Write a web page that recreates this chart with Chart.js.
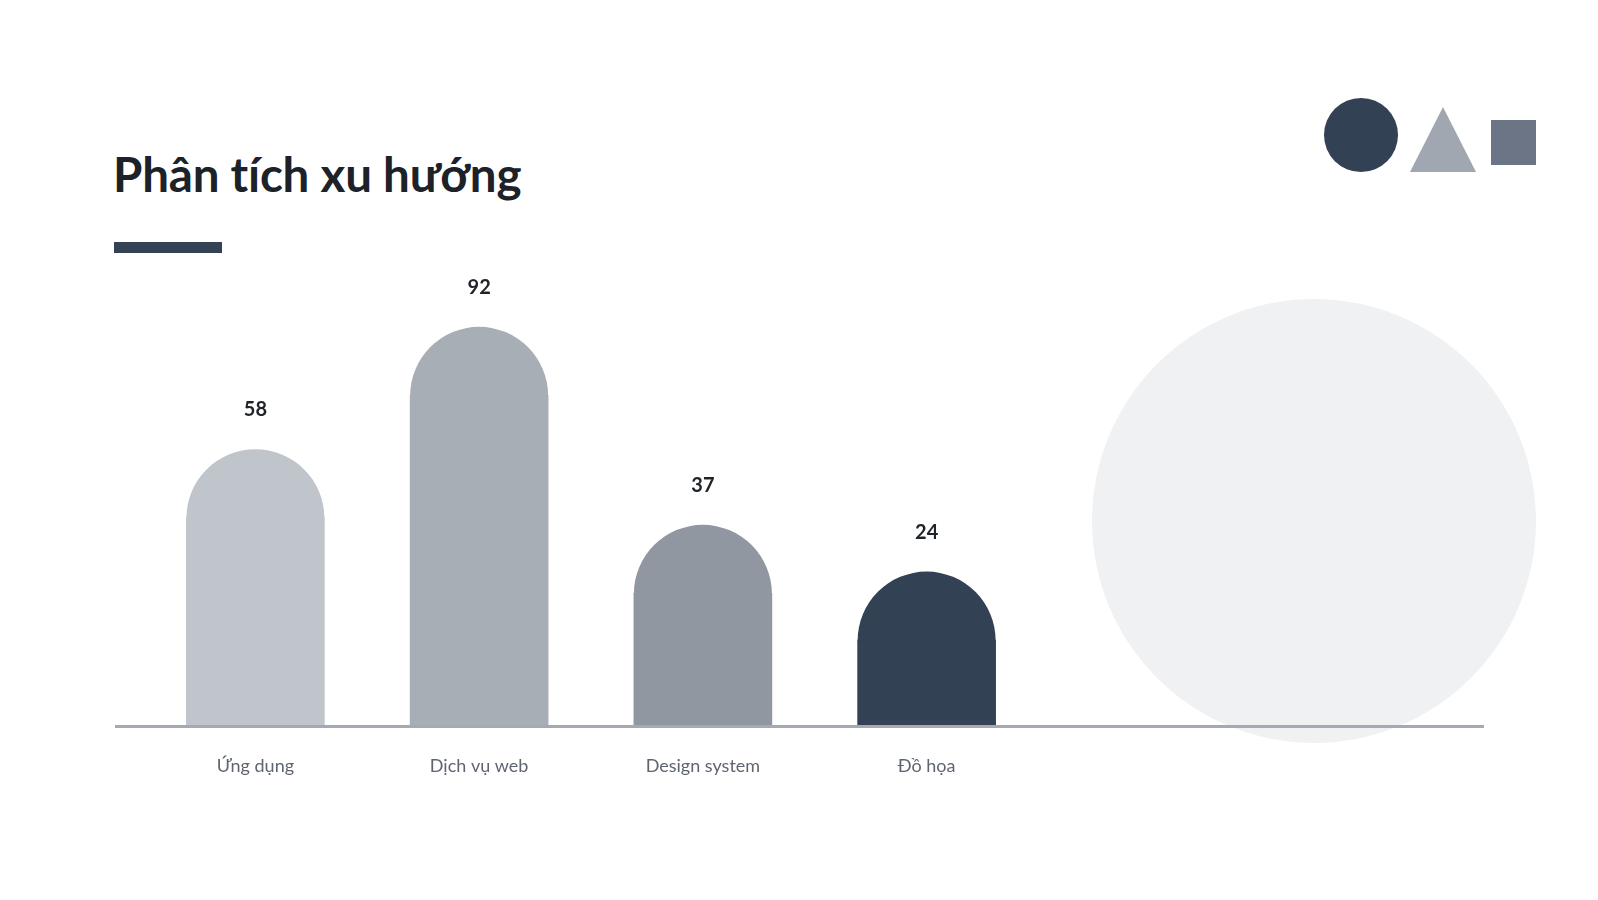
<!DOCTYPE html>
<html lang="vi">
<head>
<meta charset="utf-8">
<title>Phân tích xu hướng</title>
<script src="https://cdn.jsdelivr.net/npm/chart.js@4"></script>
<style>
  html, body { margin: 0; padding: 0; background: #fff; }
  body { width: 1598px; height: 900px; position: relative; overflow: hidden; font-family: Lato, 'Noto Sans', sans-serif; }
  h1 { position: absolute; left: 113px; top: 145px; margin: 0; font-size: 47.5px; font-weight: 700; color: #1d2128; letter-spacing: -0.2px; }
  .rule { position: absolute; left: 114px; top: 242px; width: 108px; height: 11px; background: #344256; }
  .blob { position: absolute; left: 1092px; top: 299px; width: 444px; height: 444px; border-radius: 50%; background: #f0f1f3; }
  .dot { position: absolute; left: 1324px; top: 98px; width: 74px; height: 74px; border-radius: 50%; background: #334155; }
  .tri { position: absolute; left: 1410px; top: 107px; width: 0; height: 0; border-left: 33px solid transparent; border-right: 33px solid transparent; border-bottom: 65px solid #a1a7b1; }
  .sq { position: absolute; left: 1491px; top: 120px; width: 45px; height: 45px; background: #6b7585; }
  #wrap { position: absolute; left: 0; top: 0; width: 1598px; height: 900px; }
</style>
</head>
<body>
<div class="blob"></div>
<div class="dot"></div>
<div class="tri"></div>
<div class="sq"></div>
<h1>Phân tích xu hướng</h1>
<div class="rule"></div>
<div id="wrap"><canvas id="trendChart" width="1598" height="900"></canvas></div>
<script>
const categories = ['Ứng dụng', 'Dịch vụ web', 'Design system', 'Đồ họa']
const values = [58, 92, 37, 24]
const barColors = ['#c0c5cc', '#a8aeb6', '#9197a1', '#334155']

// rounded cap on top of each bar + value label + long baseline
const capsAndLabels = {
  id: 'capsAndLabels',
  afterDatasetsDraw(chart) {
    const { ctx } = chart
    const meta = chart.getDatasetMeta(0)
    ctx.save()
    meta.data.forEach((bar, i) => {
      const r = bar.width / 2
      ctx.beginPath()
      ctx.arc(bar.x, bar.y + 0.5, r, Math.PI, 0)
      ctx.closePath()
      ctx.fillStyle = barColors[i]
      ctx.fill()

      ctx.fillStyle = '#1f232a'
      ctx.font = 'bold 20px Lato'
      ctx.textAlign = 'center'
      ctx.textBaseline = 'middle'
      ctx.fillText(values[i], bar.x, bar.y - r - 39)
    })

    const y0 = chart.scales.y.getPixelForValue(0)
    ctx.strokeStyle = '#a4aab3'
    ctx.lineWidth = 3
    ctx.beginPath()
    ctx.moveTo(115, y0)
    ctx.lineTo(1484, y0)
    ctx.stroke()
    ctx.restore()
  },
}

const canvas = document.getElementById('trendChart')
new Chart(canvas.getContext('2d'), {
  type: 'bar',
  data: {
    labels: categories,
    datasets: [
      {
        data: values,
        backgroundColor: barColors,
        borderWidth: 0,
        borderRadius: 0,
        barThickness: 138,
      },
    ],
  },
  options: {
    responsive: false,
    animation: false,
    devicePixelRatio: 1,
    layout: { padding: { left: 143.5, right: 559.5, top: 294.5, bottom: 123.5 } },
    plugins: { legend: { display: false }, tooltip: { enabled: false } },
    scales: {
      y: { display: false, min: 0, max: 120 },
      x: {
        grid: { display: false, drawTicks: false },
        border: { display: false },
        afterFit(scale) { scale.height = 50 },
        ticks: {
          padding: 29,
          color: '#5f6570',
          font: { family: 'Lato', size: 18 },
        },
      },
    },
  },
  plugins: [capsAndLabels],
})
</script>
</body>
</html>
